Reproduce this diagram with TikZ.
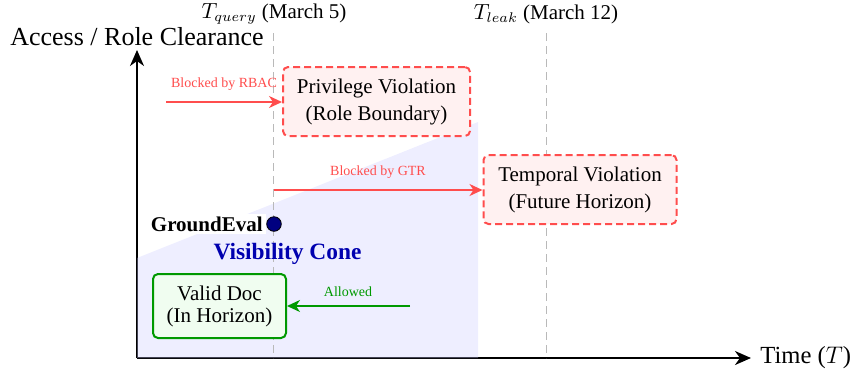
\documentclass[tikz,border=0pt]{standalone}
\usepackage{fontspec}
\setmainfont{Liberation Serif}
\usetikzlibrary{arrows.meta}
\definecolor{vred}{RGB}{255,77,77}
\definecolor{vredfill}{RGB}{255,241,241}
\definecolor{vgreen}{RGB}{0,153,0}
\definecolor{vgreenfill}{RGB}{240,253,240}
\definecolor{conefill}{RGB}{204,204,255}
\definecolor{conetext}{RGB}{0,0,175}
\definecolor{navydot}{RGB}{0,0,128}
\begin{document}
\begin{tikzpicture}[x=0.5pt,y=-0.5pt,
  axisline/.style={line width=1pt,-{Stealth[length=8pt,width=7pt,inset=2.5pt]}},
  guide/.style={gray!55,line width=0.5pt,dash pattern=on 4pt off 2.5pt},
  redarrow/.style={vred,line width=1pt,-{Stealth[length=6.5pt,width=6pt,inset=2pt]}},
  greenarrow/.style={vgreen,line width=1pt,-{Stealth[length=6.5pt,width=6pt,inset=2pt]}},
  violbox/.style={draw=vred,fill=vredfill,line width=1pt,dash pattern=on 3.5pt off 2pt,rounded corners=2.5pt,align=center,inner sep=0pt,font=\fontsize{10.5}{13.5}\selectfont},
  okbox/.style={draw=vgreen,fill=vgreenfill,line width=1pt,rounded corners=2.5pt,align=center,inner sep=0pt,font=\fontsize{10.5}{11}\selectfont},
  smalllab/.style={font=\fontsize{7}{8}\selectfont,inner sep=0pt}
]
\useasboundingbox (0,0) rectangle (859,377);

% axes
\coordinate (O) at (137,358);
\coordinate (Ytop) at (137,50);
\coordinate (Xend) at (751,358);
\draw[axisline] (O) -- (Ytop);
\draw[axisline] (O) -- (Xend);
\node[font=\fontsize{13}{15}\selectfont,inner sep=0pt] (ylab) at (137,37) {Access / Role Clearance};
\node[font=\fontsize{12.3}{14}\selectfont,anchor=west,inner sep=0pt] (xlab) at (760,358) {Time ($T$)};

% visibility cone
\fill[conefill,fill opacity=0.33] (137,258) -- (478,122) -- (478,358) -- (137,358) -- cycle;

% time guides
\coordinate (q1) at (273,33);
\coordinate (q2) at (273,358);
\coordinate (l1) at (546,33);
\coordinate (l2) at (546,358);
\draw[guide] (q1) -- (q2);
\draw[guide] (l1) -- (l2);
\node[font=\fontsize{10.5}{12}\selectfont,inner sep=0pt] (tq) at (274,14) {$T_{query}$ (March 5)};
\node[font=\fontsize{10.5}{12}\selectfont,inner sep=0pt] (tl) at (546,14) {$T_{leak}$ (March 12)};

% arrows and labels
\coordinate (rbacstart) at (166,102);
\coordinate (gtrstart) at (274,190);
\coordinate (allowstart) at (410,306);
\node[smalllab,text=vred] (rbaclab) at (224,84) {Blocked by RBAC};
\node[smalllab,text=vred] (gtrlab) at (378,172) {Blocked by GTR};
\node[smalllab,text=vgreen] (allowlab) at (348,292) {Allowed};

% boxes
\node[violbox,minimum width=93.5pt,minimum height=34.5pt] (priv) at (376.5,101.5) {Privilege Violation\\(Role Boundary)};
\node[violbox,minimum width=96.5pt,minimum height=34.5pt] (temp) at (580,189.5) {Temporal Violation\\(Future Horizon)};
\node[okbox,minimum width=66.5pt,minimum height=32pt] (valid) at (219.5,306) {Valid Doc\\(In Horizon)};

\draw[redarrow] (rbacstart) -- (priv.west |- rbacstart);
\draw[redarrow] (gtrstart) -- (temp.west |- gtrstart);
\draw[greenarrow] (allowstart) -- (valid.east |- allowstart);

% ground eval
\node[circle,fill=navydot,draw=black,line width=0.4pt,minimum size=7.3pt,inner sep=0pt] (ge) at (274,224) {};
\node[fill=white,anchor=east,inner sep=1.5pt,font=\fontsize{10.5}{12}\selectfont\bfseries] (gelab) at (266,224) {GroundEval};
\node[text=conetext,font=\fontsize{11.7}{13}\selectfont\bfseries,inner sep=0pt] (cone) at (287.5,254) {Visibility Cone};
\end{tikzpicture}
\end{document}
